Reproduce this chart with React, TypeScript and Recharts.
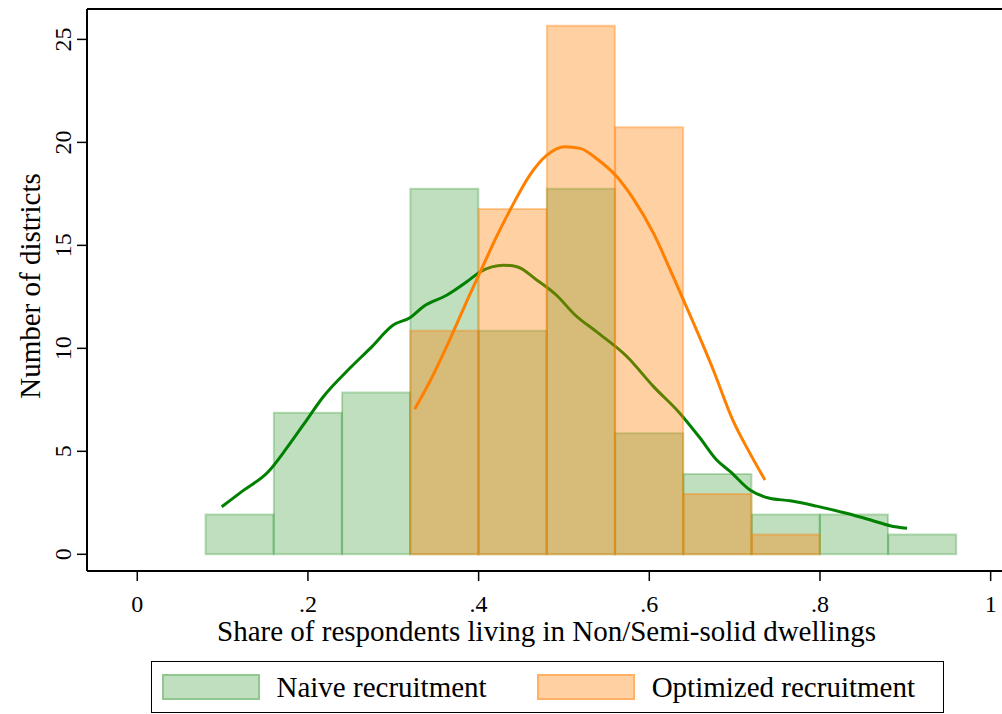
import { ComposedChart, Bar, Line, XAxis, YAxis, Legend } from 'recharts';

const FONT = '"Liberation Serif", "Times New Roman", Times, serif';

// histogram bins (width .08), heights
const binCenters = [0.12, 0.2, 0.28, 0.36, 0.44, 0.52, 0.6, 0.68, 0.76, 0.84, 0.92];
const naiveCounts = [1.93, 6.87, 7.85, 17.75, 10.85, 17.75, 5.88, 3.9, 1.93, 1.93, 0.96];
const optimizedCounts = [null, null, null, 10.85, 16.77, 25.66, 20.73, 2.93, 0.96, null, null];

// kernel density curves (scaled to counts)
const naiveDensityX = [0.099, 0.124, 0.1535, 0.175, 0.1945, 0.218, 0.249, 0.273, 0.3, 0.32, 0.335, 0.363, 0.386, 0.402, 0.429, 0.445, 0.468, 0.491, 0.513, 0.538, 0.574, 0.605, 0.636, 0.659, 0.679, 0.695, 0.718, 0.741, 0.765, 0.796, 0.831, 0.862, 0.882, 0.902];
const naiveDensityY = [2.31, 3.09, 4.01, 5.15, 6.28, 7.65, 9.03, 10.0, 11.13, 11.5, 12.02, 12.59, 13.23, 13.72, 14.04, 13.96, 13.32, 12.59, 11.62, 10.81, 9.59, 8.14, 6.84, 5.67, 4.58, 4.01, 3.12, 2.72, 2.6, 2.34, 1.99, 1.63, 1.39, 1.26];
const optDensityX = [0.325, 0.343, 0.366, 0.39, 0.402, 0.421, 0.441, 0.46, 0.48, 0.501, 0.519, 0.538, 0.562, 0.581, 0.605, 0.628, 0.652, 0.675, 0.698, 0.718, 0.7355];
const optDensityY = [7.04, 8.4, 10.4, 12.65, 13.72, 15.42, 17.04, 18.41, 19.38, 19.79, 19.71, 19.22, 18.33, 17.28, 15.58, 13.48, 11.21, 8.95, 6.5, 4.9, 3.61];

const xTicks = [0, 0.2, 0.4, 0.6, 0.8, 1];
const yTicks = [0, 5, 10, 15, 20, 25];
const seriesNames = ['Naive recruitment', 'Optimized recruitment'];

const GREEN = 'rgb(0,128,0)';
const ORANGE = 'rgb(255,127,0)';
const xDomain = [-0.0589, 1.0133];
const yDomain = [-0.811, 26.476];

const bins = binCenters.map((x, i) => ({ x, naive: naiveCounts[i], optimized: optimizedCounts[i] }));
const naiveCurve = naiveDensityX.map((x, i) => ({ x, y: naiveDensityY[i] }));
const optCurve = optDensityX.map((x, i) => ({ x, y: optDensityY[i] }));

const fmtX = (v: number) => (v === 0 || v === 1 ? String(v) : String(v).replace(/^0\./, '.'));

const XTick = ({ x, y, payload }: any) => (
  <text x={x} y={y} dy={29} textAnchor="middle" fontSize={24} fontFamily={FONT} fill="#000">
    {fmtX(payload.value)}
  </text>
);

const YTick = ({ x, y, payload }: any) => {
  const cx = x - 12;
  return (
    <text
      x={cx}
      y={y}
      transform={`rotate(-90, ${cx}, ${y})`}
      textAnchor="middle"
      dominantBaseline="central"
      fontSize={24}
      fontFamily={FONT}
      fill="#000"
    >
      {payload.value}
    </text>
  );
};

const XTitle = (props: any) => {
  const vb = props.viewBox ?? { x: 87, y: 571, width: 915 };
  const cx = vb.x + vb.width / 2 + 2;
  return (
    <text x={cx} y={vb.y + 70} textAnchor="middle" fontSize={29} fontFamily={FONT} fill="#000">
      Share of respondents living in Non/Semi-solid dwellings
    </text>
  );
};

const YTitle = (props: any) => {
  const vb = props.viewBox ?? { x: 0, y: 9, width: 87, height: 562 };
  const cx = vb.x + 30;
  const cy = vb.y + vb.height / 2 - 4;
  return (
    <text
      x={cx}
      y={cy}
      transform={`rotate(-90, ${cx}, ${cy})`}
      textAnchor="middle"
      dominantBaseline="central"
      fontSize={29}
      fontFamily={FONT}
      fill="#000"
    >
      Number of districts
    </text>
  );
};

const swatches = [
  { fill: 'rgba(0,128,0,0.25)', border: 'rgba(0,128,0,0.25)' },
  { fill: 'rgba(255,127,0,0.37)', border: 'rgba(255,127,0,0.37)' },
];

const LegendBox = () => (
  <div
    style={{
      width: 793,
      height: 52,
      border: '1.5px solid #000',
      boxSizing: 'border-box',
      display: 'flex',
      alignItems: 'center',
      paddingLeft: 9.5,
      fontFamily: FONT,
      fontSize: 29,
      color: '#000',
    }}
  >
    {seriesNames.map((name, i) => (
      <div key={name} style={{ display: 'flex', alignItems: 'center', marginRight: i === 0 ? 50 : 0 }}>
        <div
          style={{
            width: 98,
            height: 26,
            boxSizing: 'border-box',
            background: swatches[i].fill,
            border: `2px solid ${swatches[i].border}`,
            marginRight: 17,
          }}
        />
        <span style={{ lineHeight: '30px' }}>{name}</span>
      </div>
    ))}
  </div>
);

export default function App() {
  return (
    <div style={{ position: 'absolute', left: 0, top: 0, width: 1002, height: 714, background: '#fff' }}>
      <ComposedChart
        width={1002}
        height={714}
        data={bins}
        margin={{ top: 8, right: 0, left: 0, bottom: 1 }}
        barCategoryGap={0}
        barGap={0}
        style={{ fontFamily: FONT }}
      >
        <XAxis
          xAxisId="main"
          dataKey="x"
          type="number"
          domain={xDomain}
          allowDataOverflow
          ticks={xTicks}
          interval={0}
          tickSize={10}
          tickLine={{ stroke: '#000', strokeWidth: 1.5 }}
          axisLine={{ stroke: '#000', strokeWidth: 2 }}
          tick={<XTick />}
          height={90}
          label={XTitle}
        />
        <XAxis xAxisId="naive" dataKey="x" type="number" domain={xDomain} allowDataOverflow hide />
        <XAxis
          xAxisId="opt"
          dataKey="x"
          type="number"
          domain={xDomain}
          allowDataOverflow
          orientation="top"
          height={1}
          ticks={xTicks}
          tick={false}
          tickLine={false}
          axisLine={{ stroke: '#000', strokeWidth: 2 }}
        />
        <YAxis
          type="number"
          domain={yDomain}
          allowDataOverflow
          ticks={yTicks}
          interval={0}
          width={87}
          tickSize={10}
          tickLine={{ stroke: '#000', strokeWidth: 1.5 }}
          axisLine={{ stroke: '#000', strokeWidth: 2 }}
          tick={<YTick />}
          label={YTitle}
        />
        <Bar
          xAxisId="naive"
          dataKey="naive"
          name={seriesNames[0]}
          fill={GREEN}
          fillOpacity={0.25}
          stroke={GREEN}
          strokeOpacity={0.25}
          strokeWidth={2}
          isAnimationActive={false}
          zIndex={300}
        />
        <Line
          xAxisId="main"
          data={naiveCurve}
          dataKey="y"
          type="monotone"
          stroke={GREEN}
          strokeWidth={3}
          dot={false}
          activeDot={false}
          legendType="none"
          isAnimationActive={false}
          zIndex={310}
        />
        <Bar
          xAxisId="opt"
          dataKey="optimized"
          name={seriesNames[1]}
          fill={ORANGE}
          fillOpacity={0.37}
          stroke={ORANGE}
          strokeOpacity={0.37}
          strokeWidth={2}
          isAnimationActive={false}
          zIndex={320}
        />
        <Line
          xAxisId="main"
          data={optCurve}
          dataKey="y"
          type="monotone"
          stroke={ORANGE}
          strokeWidth={3}
          dot={false}
          activeDot={false}
          legendType="none"
          isAnimationActive={false}
          zIndex={400}
        />
        <Legend
          verticalAlign="bottom"
          content={<LegendBox />}
          wrapperStyle={{ left: 151, bottom: 1, width: 793, height: 52 }}
        />
      </ComposedChart>
    </div>
  );
}
